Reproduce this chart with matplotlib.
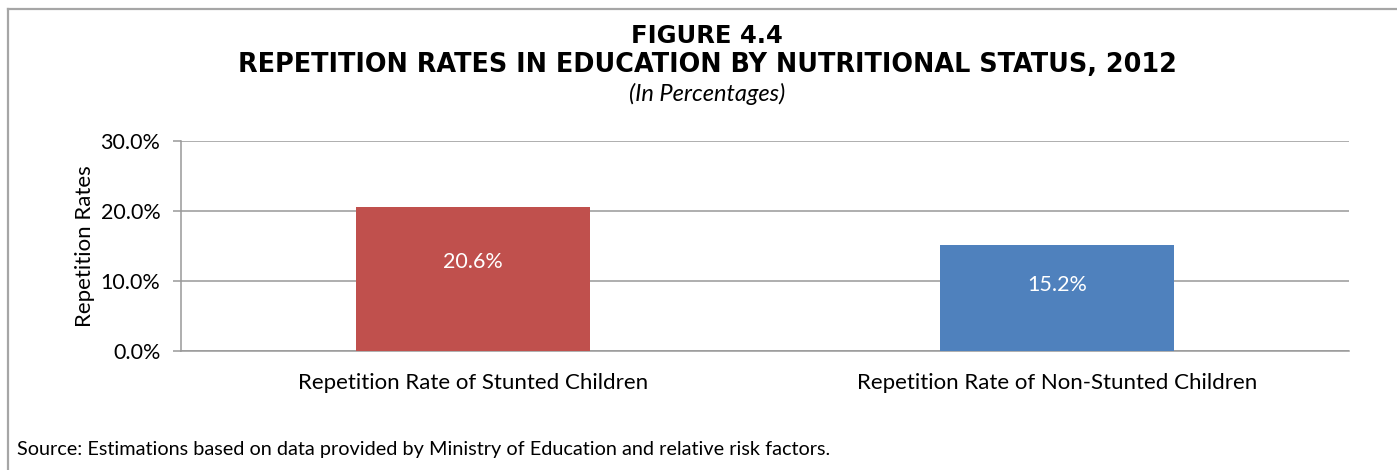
import matplotlib
matplotlib.use("Agg")
import matplotlib.pyplot as plt
from matplotlib.lines import Line2D
from matplotlib.ticker import FuncFormatter

categories = ["Repetition Rate of Stunted Children", "Repetition Rate of Non-Stunted Children"]
values = [20.6, 15.2]
bar_colors = ["#C0504D", "#4F81BD"]
yticks = [0, 10, 20, 30]

plt.rcParams['font.family'] = ['Lato', 'DejaVu Sans']

fig = plt.figure(figsize=(13.97, 4.70), dpi=100)
ax = fig.add_axes([181/1397, 1-351/470, (1349-181)/1397, (351-141)/470])

x = range(len(categories))
ax.bar(x, values, width=0.4, color=bar_colors, zorder=3)
for xi, v in zip(x, values):
    ax.text(xi, v*0.62, f"{v:.1f}%", ha='center', va='center', color='white', fontsize=15.5, zorder=4)

ax.set_xlim(-0.5, 1.5)
ax.set_ylim(0, 30)
ax.set_yticks(yticks)
ax.yaxis.set_major_formatter(FuncFormatter(lambda v, p: f"{v:.1f}%"))
ax.set_xticks(list(x))
ax.set_xticklabels(categories, fontsize=16)
ax.tick_params(axis='x', length=0, pad=16)
ax.tick_params(axis='y', length=5.8, width=1.1, color='#999999', labelsize=15.5, pad=9)
ax.grid(axis='y', color='#999999', linewidth=1.1, zorder=0)
for s in ['top', 'right']:
    ax.spines[s].set_visible(False)
for s in ['left', 'bottom']:
    ax.spines[s].set_color('#999999')
    ax.spines[s].set_linewidth(1.1)
ax.set_ylabel("Repetition Rates", fontsize=16, labelpad=4)

cx = 707/1397
fig.text(cx, 1-43/470, "FIGURE 4.4", ha='center', va='baseline', fontsize=17.5, fontweight='bold', family=['DejaVu Sans'])
fig.text(cx, 1-72/470, "REPETITION RATES IN EDUCATION BY NUTRITIONAL STATUS, 2012", ha='center', va='baseline', fontsize=18.4, fontweight='bold', family=['DejaVu Sans'])
fig.text(cx, 1-101/470, "(In Percentages)", ha='center', va='baseline', fontsize=17, style='italic')
fig.text(17/1397, 1-449/470, "Source: Estimations based on data provided by Ministry of Education and relative risk factors.", ha='left', va='center', fontsize=14.3)

fig.add_artist(Line2D([8/1397, 1], [1-9/470, 1-9/470], transform=fig.transFigure, color='#a6a6a6', linewidth=1.6))
fig.add_artist(Line2D([8/1397, 8/1397], [0, 1-9/470], transform=fig.transFigure, color='#a6a6a6', linewidth=1.6))

fig.savefig("out.png", dpi=100)
